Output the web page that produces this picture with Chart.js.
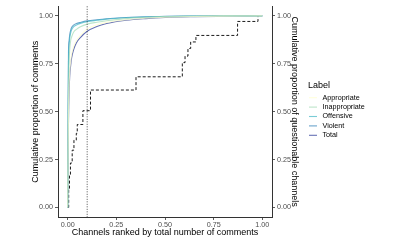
<!DOCTYPE html>
<html>
<head>
<meta charset="utf-8">
<script src="https://cdn.jsdelivr.net/npm/chart.js@4.4.0/dist/chart.umd.min.js"></script>
<style>
  body { margin: 0; background: #fff; }
  canvas { display: block; }
</style>
</head>
<body>
<canvas id="chart" width="400" height="240"></canvas>
<script>
// channel rank (share of channels, ranked by total comments)
const rankX = [0, 0.002, 0.004, 0.007, 0.01, 0.015, 0.02, 0.03, 0.045, 0.065, 0.1, 0.15, 0.2, 0.3, 0.4, 0.5, 0.65, 0.8, 1.0]

// cumulative proportion of comments per label
const appropriate   = [0, 0.27, 0.48, 0.63, 0.70, 0.76, 0.80, 0.84, 0.872, 0.897, 0.932, 0.954, 0.966, 0.980, 0.988, 0.993, 0.997, 0.999, 1]
const inappropriate = [0, 0.35, 0.60, 0.75, 0.82, 0.87, 0.89, 0.915, 0.930, 0.943, 0.957, 0.967, 0.975, 0.986, 0.992, 0.996, 0.998, 1, 1]
const offensive     = [0, 0.45, 0.76, 0.84, 0.88, 0.91, 0.928, 0.943, 0.953, 0.961, 0.970, 0.977, 0.983, 0.990, 0.994, 0.997, 0.999, 1, 1]
const violent       = [0, 0.55, 0.82, 0.87, 0.90, 0.925, 0.94, 0.952, 0.960, 0.966, 0.974, 0.980, 0.985, 0.992, 0.995, 0.998, 0.999, 1, 1]
const total         = [0, 0.25, 0.45, 0.60, 0.68, 0.74, 0.78, 0.823, 0.86, 0.887, 0.920, 0.945, 0.960, 0.977, 0.986, 0.992, 0.996, 0.998, 1]

// cumulative proportion of questionable channels (right axis), jump positions
const stepX = [0.003, 0.005, 0.009, 0.014, 0.023, 0.032, 0.044, 0.049, 0.078, 0.117, 0.351, 0.589, 0.603, 0.618, 0.632, 0.659, 0.873, 0.978]
const stepY = [0, 0.093, 0.17, 0.232, 0.299, 0.351, 0.387, 0.433, 0.505, 0.613, 0.682, 0.756, 0.79, 0.83, 0.864, 0.898, 0.971, 1.0]

const cutoffX = 0.1
const tickValues = [0, 0.25, 0.5, 0.75, 1]

const labels = ['Appropriate', 'Inappropriate', 'Offensive', 'Violent', 'Total']
const colors = ['#ffffcc', '#a1dab4', '#41b6c4', '#2c7fb8', '#253494']
const series = [appropriate, inappropriate, offensive, violent, total]

const FONT = "'Liberation Sans', Arial, sans-serif"

function withAlpha(hex, a){
  const n = parseInt(hex.slice(1), 16)
  return `rgba(${n >> 16},${(n >> 8) & 255},${n & 255},${a})`
}

const datasets = series.map((vals, i) => ({
  label: labels[i],
  data: rankX.map((x, j) => ({ x: x, y: vals[j] })),
  borderColor: withAlpha(colors[i], 0.7),
  borderWidth: 1.1,
  pointRadius: 0,
  cubicInterpolationMode: 'monotone',
  yAxisID: 'y',
}))

datasets.push({
  label: 'questionable',
  data: stepX.map((x, j) => ({ x: x, y: stepY[j] })),
  borderColor: '#000',
  borderWidth: 0.9,
  borderDash: [3, 2],
  pointRadius: 0,
  stepped: 'before',
  yAxisID: 'y2',
})

function fixedTicks(scale){
  scale.ticks = tickValues.map(v => ({ value: v }))
}

const tickFont = { family: FONT, size: 7.2 }
const titleFont = { family: FONT, size: 9 }

function axisGrid(){
  return { drawOnChartArea: false, drawTicks: true, tickLength: 3, color: '#333', lineWidth: 0.8 }
}

// dotted cutoff line and the legend
const extras = {
  id: 'extras',
  afterDatasetsDraw(chart){
    const ctx = chart.ctx
    const area = chart.chartArea
    const px = chart.scales.x.getPixelForValue(cutoffX)
    ctx.save()
    ctx.strokeStyle = '#000'
    ctx.lineWidth = 0.7
    ctx.setLineDash([1, 1.5])
    ctx.beginPath()
    ctx.moveTo(px, area.top)
    ctx.lineTo(px, area.bottom)
    ctx.stroke()
    ctx.restore()
  },
  afterDraw(chart){
    const ctx = chart.ctx
    ctx.save()
    ctx.fillStyle = '#000'
    ctx.textBaseline = 'middle'
    ctx.font = `9px ${FONT}`
    ctx.fillText('Label', 308, 86)
    ctx.font = `7.2px ${FONT}`
    labels.forEach((lab, i) => {
      const y = 97.7 + i * 9.4
      ctx.strokeStyle = withAlpha(colors[i], 0.7)
      ctx.lineWidth = 1.1
      ctx.beginPath()
      ctx.moveTo(309, y)
      ctx.lineTo(317, y)
      ctx.stroke()
      ctx.fillStyle = '#000'
      ctx.fillText(lab, 322.5, y)
    })
    ctx.restore()
  }
}

new Chart(document.getElementById('chart'), {
  type: 'line',
  data: { datasets: datasets },
  options: {
    responsive: false,
    animation: false,
    layout: { padding: { left: 30, right: 100, top: 4, bottom: 0 } },
    plugins: { legend: { display: false }, tooltip: { enabled: false } },
    scales: {
      x: {
        type: 'linear',
        min: -0.05,
        max: 1.05,
        afterBuildTicks: fixedTicks,
        afterFit: s => { s.height = 23 },
        ticks: { font: tickFont, color: '#4d4d4d', padding: 1, maxRotation: 0, callback: v => v.toFixed(2) },
        grid: axisGrid(),
        border: { display: true, color: '#333', width: 1 },
        title: { display: true, text: 'Channels ranked by total number of comments', font: titleFont, color: '#000', padding: { top: 0, bottom: 2 } },
      },
      y: {
        position: 'left',
        min: -0.05,
        max: 1.05,
        afterBuildTicks: fixedTicks,
        afterFit: s => { s.width = 28 },
        ticks: { font: tickFont, color: '#4d4d4d', padding: 2, callback: v => v.toFixed(2) },
        grid: axisGrid(),
        border: { display: true, color: '#333', width: 1 },
        title: { display: true, text: 'Cumulative proportion of comments', font: titleFont, color: '#000', padding: 0 },
      },
      y2: {
        position: 'right',
        min: -0.05,
        max: 1.05,
        afterBuildTicks: fixedTicks,
        afterFit: s => { s.width = 28 },
        ticks: { font: tickFont, color: '#4d4d4d', padding: 2, callback: v => v.toFixed(2) },
        grid: axisGrid(),
        border: { display: true, color: '#333', width: 1 },
        title: { display: true, text: 'Cumulative proportion of questionable channels', font: titleFont, color: '#000', padding: 0 },
      },
    },
  },
  plugins: [extras],
})
</script>
</body>
</html>
